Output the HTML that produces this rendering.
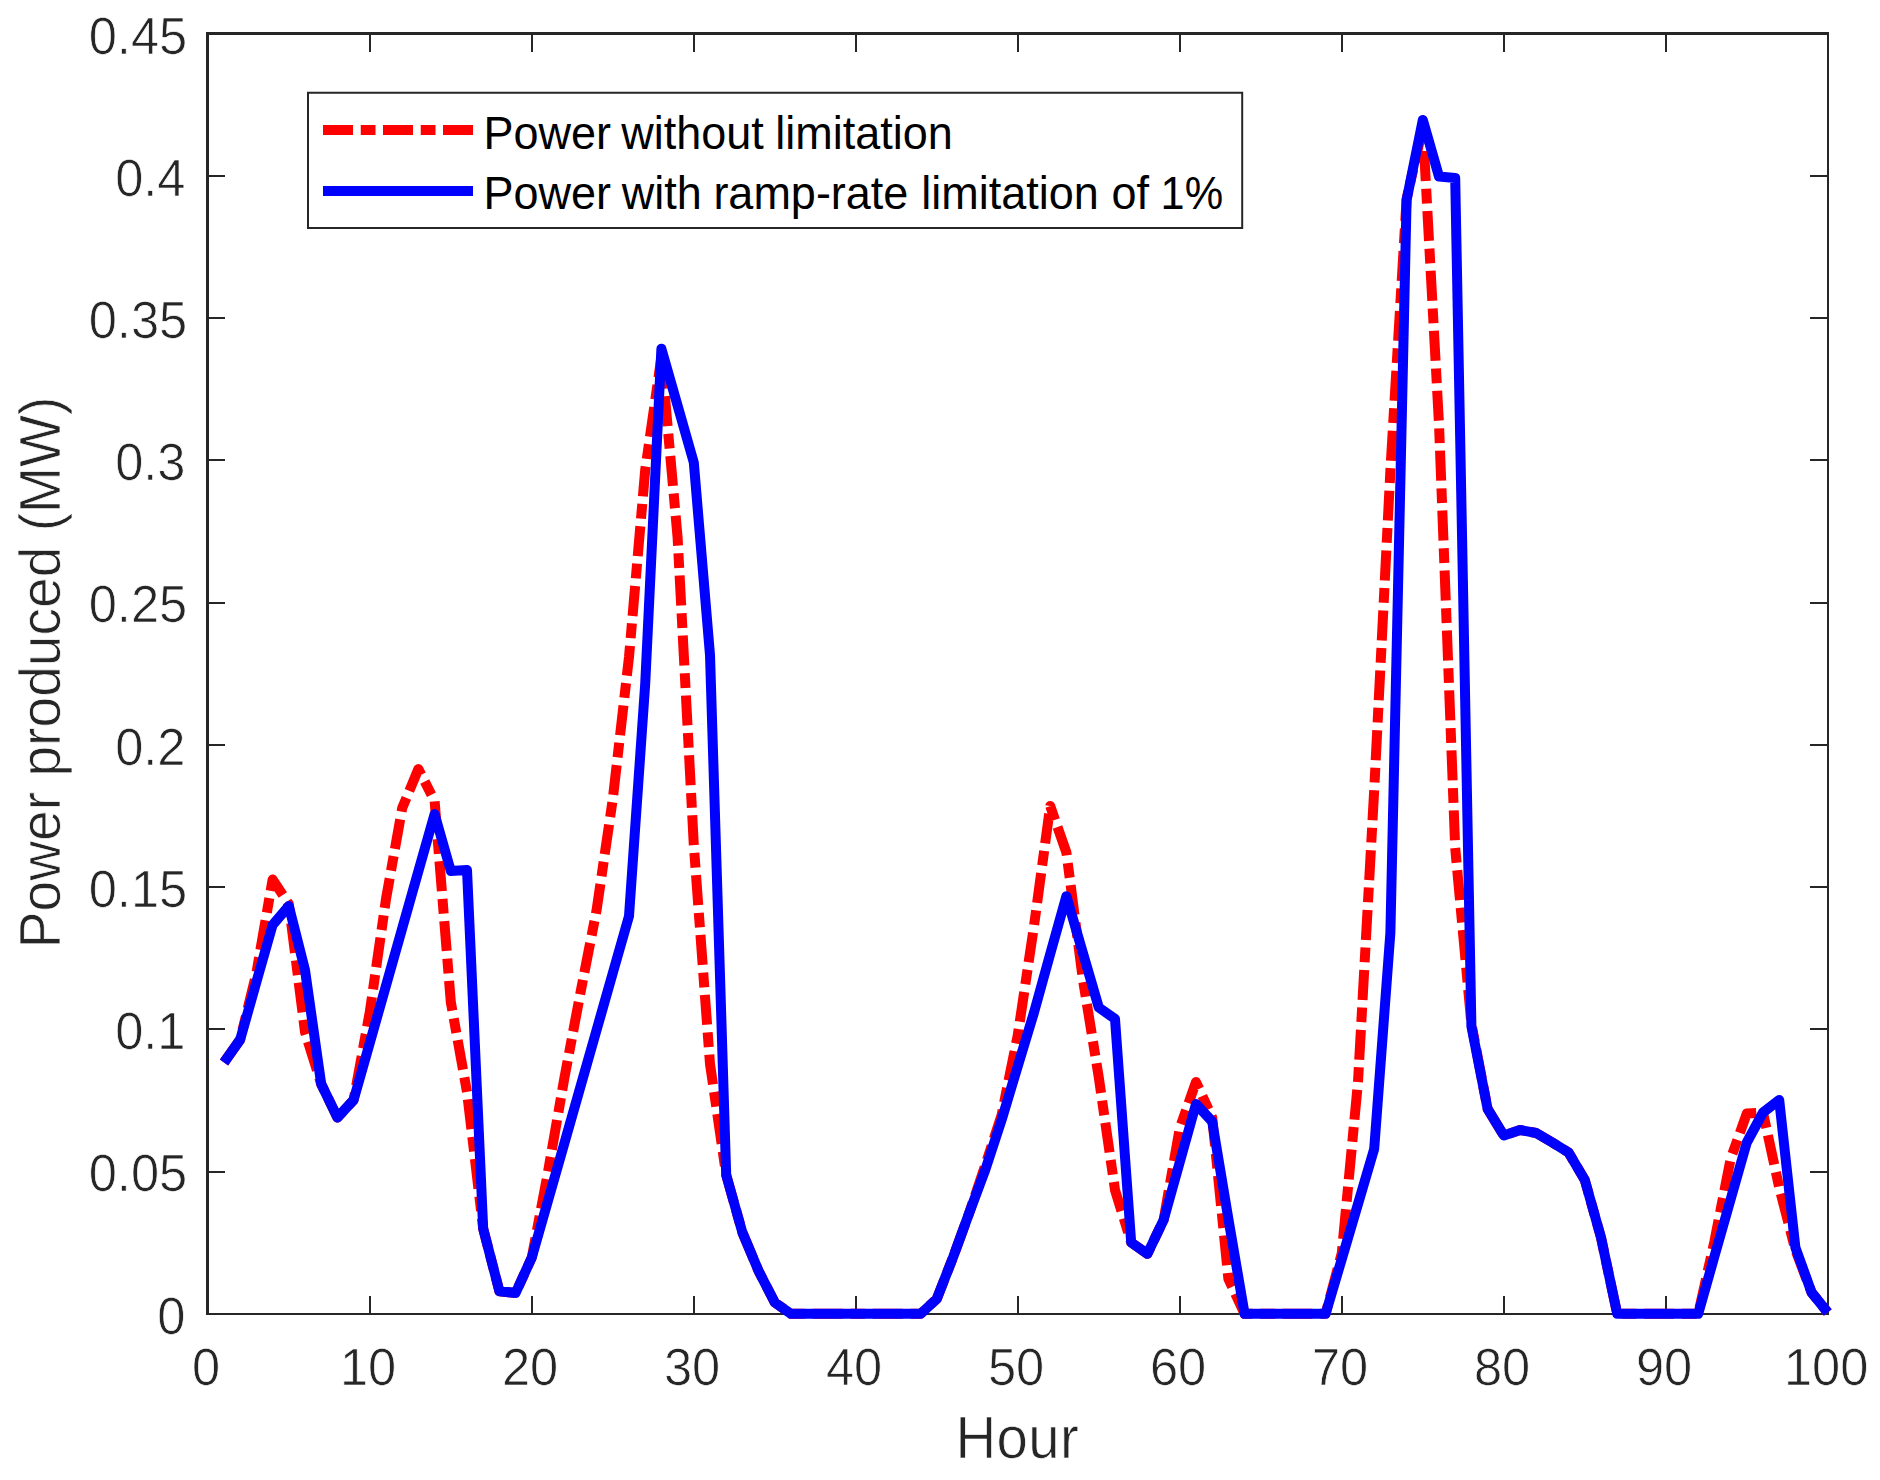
<!DOCTYPE html>
<html><head><meta charset="utf-8"><title>Power produced</title>
<style>
html,body{margin:0;padding:0;background:#fff;}
svg{display:block;}
text{font-family:"Liberation Sans",Arial,Helvetica,sans-serif;}
.tk{font-size:50.6px;fill:#262626;stroke:#fff;stroke-width:0.7px;}
.lb{font-size:55.6px;fill:#262626;stroke:#fff;stroke-width:0.7px;}
.lg{font-size:45px;fill:#000;}
</style></head><body>
<svg width="1880" height="1480" viewBox="0 0 1880 1480">
<rect x="0" y="0" width="1880" height="1480" fill="#fff"/>

<g fill="#262626" shape-rendering="crispEdges">
<rect x="206" y="32" width="3" height="1283"/>
<rect x="206" y="32" width="1623" height="3"/>
<rect x="1827" y="32" width="2" height="1283"/>
<rect x="206" y="1313" width="1623" height="2"/>
</g>
<g fill="#262626" shape-rendering="crispEdges">
<rect x="369" y="1296" width="2" height="17"/><rect x="369" y="35" width="2" height="17"/>
<rect x="531" y="1296" width="2" height="17"/><rect x="531" y="35" width="2" height="17"/>
<rect x="693" y="1296" width="2" height="17"/><rect x="693" y="35" width="2" height="17"/>
<rect x="855" y="1296" width="2" height="17"/><rect x="855" y="35" width="2" height="17"/>
<rect x="1017" y="1296" width="2" height="17"/><rect x="1017" y="35" width="2" height="17"/>
<rect x="1179" y="1296" width="2" height="17"/><rect x="1179" y="35" width="2" height="17"/>
<rect x="1341" y="1296" width="2" height="17"/><rect x="1341" y="35" width="2" height="17"/>
<rect x="1503" y="1296" width="2" height="17"/><rect x="1503" y="35" width="2" height="17"/>
<rect x="1665" y="1296" width="2" height="17"/><rect x="1665" y="35" width="2" height="17"/>
<rect x="209" y="1171" width="16" height="2"/><rect x="1810" y="1171" width="17" height="2"/>
<rect x="209" y="1028" width="16" height="2"/><rect x="1810" y="1028" width="17" height="2"/>
<rect x="209" y="886" width="16" height="2"/><rect x="1810" y="886" width="17" height="2"/>
<rect x="209" y="744" width="16" height="2"/><rect x="1810" y="744" width="17" height="2"/>
<rect x="209" y="602" width="16" height="2"/><rect x="1810" y="602" width="17" height="2"/>
<rect x="209" y="459" width="16" height="2"/><rect x="1810" y="459" width="17" height="2"/>
<rect x="209" y="317" width="16" height="2"/><rect x="1810" y="317" width="17" height="2"/>
<rect x="209" y="175" width="16" height="2"/><rect x="1810" y="175" width="17" height="2"/>
</g>
<text class="tk" transform="translate(206.1 1385.1) scale(1 1.04)" text-anchor="middle">0</text>
<text class="tk" transform="translate(368.1 1385.1) scale(1 1.04)" text-anchor="middle">10</text>
<text class="tk" transform="translate(530.1 1385.1) scale(1 1.04)" text-anchor="middle">20</text>
<text class="tk" transform="translate(692.1 1385.1) scale(1 1.04)" text-anchor="middle">30</text>
<text class="tk" transform="translate(854.1 1385.1) scale(1 1.04)" text-anchor="middle">40</text>
<text class="tk" transform="translate(1016.1 1385.1) scale(1 1.04)" text-anchor="middle">50</text>
<text class="tk" transform="translate(1178.1 1385.1) scale(1 1.04)" text-anchor="middle">60</text>
<text class="tk" transform="translate(1340.1 1385.1) scale(1 1.04)" text-anchor="middle">70</text>
<text class="tk" transform="translate(1502.1 1385.1) scale(1 1.04)" text-anchor="middle">80</text>
<text class="tk" transform="translate(1664.1 1385.1) scale(1 1.04)" text-anchor="middle">90</text>
<text class="tk" transform="translate(1826.1 1385.1) scale(1 1.04)" text-anchor="middle">100</text>
<text class="tk" transform="translate(185.5 1333.5) scale(1 1.04)" text-anchor="end">0</text>
<text class="tk" transform="translate(187.2 1191.3) scale(1 1.04)" text-anchor="end">0.05</text>
<text class="tk" transform="translate(185.5 1049.1) scale(1 1.04)" text-anchor="end">0.1</text>
<text class="tk" transform="translate(187.2 906.9) scale(1 1.04)" text-anchor="end">0.15</text>
<text class="tk" transform="translate(185.5 764.7) scale(1 1.04)" text-anchor="end">0.2</text>
<text class="tk" transform="translate(187.2 622.4) scale(1 1.04)" text-anchor="end">0.25</text>
<text class="tk" transform="translate(185.5 480.2) scale(1 1.04)" text-anchor="end">0.3</text>
<text class="tk" transform="translate(187.2 338.0) scale(1 1.04)" text-anchor="end">0.35</text>
<text class="tk" transform="translate(185.5 195.8) scale(1 1.04)" text-anchor="end">0.4</text>
<text class="tk" transform="translate(187.2 53.6) scale(1 1.04)" text-anchor="end">0.45</text>
<text class="lb" style="font-size:56.4px" transform="translate(955.6 1458.2) scale(1 1.05)" letter-spacing="0.3">Hour</text>
<text class="lb" style="font-size:55.15px" transform="translate(59.8 672.4) rotate(-90) scale(1 1.04)" text-anchor="middle">Power produced (MW)</text>
<polyline points="224.0,1062.5 240.2,1039.5 256.4,973.0 272.6,879.5 288.8,904.0 305.0,1032.0 321.2,1084.0 337.4,1117.5 353.6,1100.0 369.8,1012.0 386.0,899.0 402.2,808.0 418.4,769.0 434.6,801.0 450.8,1002.0 467.0,1092.0 483.2,1228.8 499.4,1291.2 515.6,1293.0 531.8,1257.5 548.0,1172.0 564.2,1079.0 580.4,993.0 596.6,910.0 612.8,799.0 629.0,657.0 645.2,470.0 661.4,357.0 677.6,537.5 693.8,845.0 710.0,1064.0 726.2,1175.0 742.4,1232.5 758.6,1271.0 774.8,1302.5 791.0,1313.8 807.2,1313.8 823.4,1313.8 839.6,1313.8 855.8,1313.8 872.0,1313.8 888.2,1313.8 904.4,1313.8 920.6,1313.8 936.8,1298.8 953.0,1257.5 969.2,1213.0 985.4,1165.0 1001.6,1115.0 1017.8,1035.0 1034.0,926.0 1050.2,806.0 1066.4,852.5 1082.6,977.5 1098.8,1077.5 1115.0,1190.0 1131.2,1242.5 1147.4,1253.8 1163.6,1220.0 1179.8,1128.0 1196.0,1082.0 1212.2,1117.5 1228.4,1279.0 1244.6,1313.8 1260.8,1313.8 1277.0,1313.8 1293.2,1313.8 1309.4,1313.8 1325.6,1313.8 1341.8,1253.0 1358.0,1082.0 1374.2,790.0 1390.4,470.0 1406.6,199.0 1422.8,127.0 1439.0,424.0 1455.2,848.0 1471.4,1024.0 1487.6,1108.8 1503.8,1135.5 1520.0,1130.0 1536.2,1133.0 1552.4,1142.5 1568.6,1152.5 1584.8,1180.0 1601.0,1237.5 1617.2,1313.8 1633.4,1313.8 1649.6,1313.8 1665.8,1313.8 1682.0,1313.8 1698.2,1313.8 1714.4,1241.5 1730.6,1159.0 1746.8,1113.5 1763.0,1112.5 1779.2,1187.5 1795.4,1250.0 1811.6,1292.5 1827.8,1312.5" fill="none" stroke="#ff0000" stroke-width="10" stroke-linejoin="round" stroke-dasharray="30 7.75 14.75 7.5"/>
<polyline points="224.0,1062.5 240.2,1039.5 256.4,982.0 272.6,925.0 288.8,906.0 305.0,970.0 321.2,1084.0 337.4,1117.5 353.6,1100.0 369.8,1042.8 386.0,985.6 402.2,928.4 418.4,871.2 434.6,814.0 450.8,871.0 467.0,870.0 483.2,1228.8 499.4,1291.2 515.6,1293.0 531.8,1257.5 548.0,1200.6 564.2,1143.8 580.4,1086.9 596.6,1030.0 612.8,973.0 629.0,916.2 645.2,684.0 661.4,348.8 677.6,405.6 693.8,462.5 710.0,655.0 726.2,1175.0 742.4,1232.5 758.6,1271.0 774.8,1302.5 791.0,1313.8 807.2,1313.8 823.4,1313.8 839.6,1313.8 855.8,1313.8 872.0,1313.8 888.2,1313.8 904.4,1313.8 920.6,1313.8 936.8,1298.8 953.0,1257.5 969.2,1213.0 985.4,1169.5 1001.6,1120.0 1017.8,1066.0 1034.0,1012.5 1050.2,954.0 1066.4,896.2 1082.6,952.0 1098.8,1007.5 1115.0,1018.8 1131.2,1242.5 1147.4,1253.8 1163.6,1220.0 1179.8,1162.0 1196.0,1104.0 1212.2,1121.5 1228.4,1219.0 1244.6,1313.8 1260.8,1313.8 1277.0,1313.8 1293.2,1313.8 1309.4,1313.8 1325.6,1313.8 1341.8,1259.0 1358.0,1204.0 1374.2,1148.8 1390.4,932.5 1406.6,200.0 1422.8,120.0 1439.0,176.5 1455.2,178.0 1471.4,1026.2 1487.6,1108.8 1503.8,1135.5 1520.0,1130.0 1536.2,1133.0 1552.4,1142.5 1568.6,1152.5 1584.8,1180.0 1601.0,1237.5 1617.2,1313.8 1633.4,1313.8 1649.6,1313.8 1665.8,1313.8 1682.0,1313.8 1698.2,1313.8 1714.4,1256.5 1730.6,1199.5 1746.8,1142.5 1763.0,1112.5 1779.2,1100.0 1795.4,1247.5 1811.6,1292.5 1827.8,1312.5" fill="none" stroke="#0000ff" stroke-width="10" stroke-linejoin="round"/>
<rect x="308" y="92.75" width="934.2" height="135.25" fill="#fff" stroke="#262626" stroke-width="2"/>
<path d="M323 130 H473" stroke="#ff0000" stroke-width="10" stroke-dasharray="30 7.75 14.75 7.5" fill="none"/>
<path d="M323 191 H473" stroke="#0000ff" stroke-width="10" fill="none"/>
<text class="lg" transform="translate(0 149) scale(1 1.035)" xml:space="preserve"><tspan x="483.4">Power </tspan><tspan x="621.3">without </tspan><tspan x="775.2">limitation</tspan></text>
<text class="lg" transform="translate(0 209.2) scale(1 1.035)" xml:space="preserve"><tspan x="483.4">Power </tspan><tspan x="621.8">with </tspan><tspan x="713.4">ramp-rate </tspan><tspan x="921.3">limitation </tspan><tspan x="1111.4">of </tspan><tspan x="1160.6" textLength="62.5" lengthAdjust="spacingAndGlyphs">1%</tspan></text>
</svg></body></html>
